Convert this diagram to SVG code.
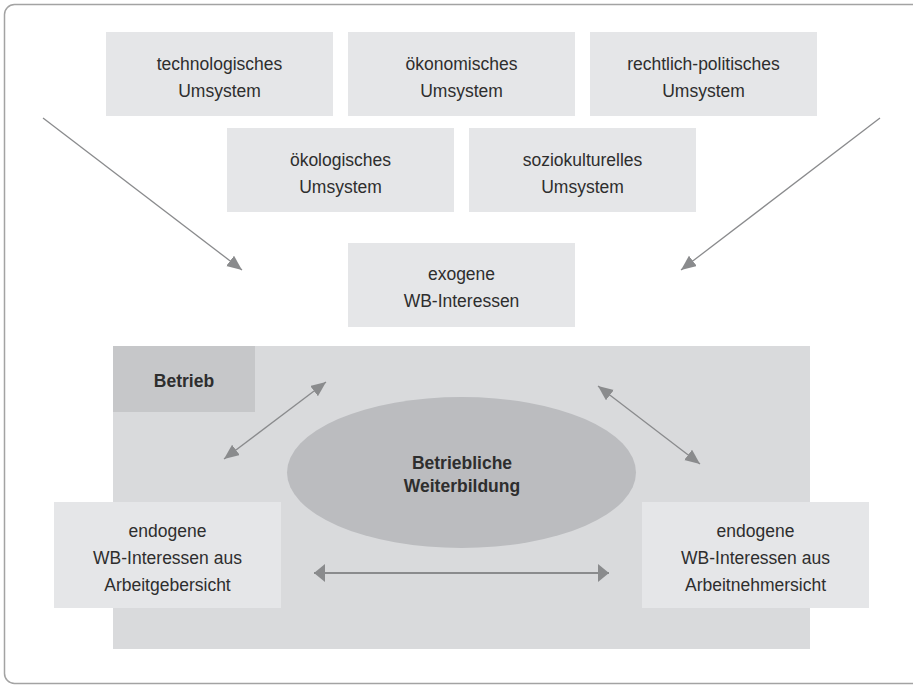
<svg xmlns="http://www.w3.org/2000/svg" width="913" height="686" viewBox="0 0 913 686">
<defs>
<style>
.box{fill:#e5e6e8}
.t{font-family:"Liberation Sans",Arial,sans-serif;font-size:17.5px;fill:#2e2e2e;text-anchor:middle}
.b{font-weight:bold}
.ln{stroke:#8a8b8d;stroke-width:1.3;fill:none}
.ln2{stroke:#8a8b8d;stroke-width:2;fill:none}
</style>
<marker id="ah" markerUnits="userSpaceOnUse" markerWidth="16" markerHeight="14" refX="15" refY="6.5" orient="auto-start-reverse">
<path d="M0,0 L15,6.5 L0,13 z" fill="#8a8b8d"/>
</marker>
<marker id="ah2" markerUnits="userSpaceOnUse" markerWidth="12" markerHeight="19" refX="11" refY="9" orient="auto-start-reverse">
<path d="M0,0 L11,9 L0,18 z" fill="#8a8b8d"/>
</marker>
</defs>
<rect width="913" height="686" fill="#ffffff"/>
<rect id="frame" x="4.5" y="4.5" width="930" height="679" rx="10" fill="none" stroke="#a3a3a3" stroke-width="1.5"/>

<g id="technologisches">
<rect class="box" x="106" y="32" width="227" height="84"/>
<text class="t" x="219.5" y="69.5">technologisches</text>
<text class="t" x="219.5" y="96.5">Umsystem</text>
</g>
<g id="oekonomisches">
<rect class="box" x="348" y="32" width="227" height="84"/>
<text class="t" x="461.5" y="69.5">ökonomisches</text>
<text class="t" x="461.5" y="96.5">Umsystem</text>
</g>
<g id="rechtlich">
<rect class="box" x="590" y="32" width="227" height="84"/>
<text class="t" x="703.5" y="69.5">rechtlich-politisches</text>
<text class="t" x="703.5" y="96.5">Umsystem</text>
</g>
<g id="oekologisches">
<rect class="box" x="227" y="128" width="227" height="84"/>
<text class="t" x="340.5" y="165.5">ökologisches</text>
<text class="t" x="340.5" y="192.5">Umsystem</text>
</g>
<g id="soziokulturelles">
<rect class="box" x="469" y="128" width="227" height="84"/>
<text class="t" x="582.5" y="165.5">soziokulturelles</text>
<text class="t" x="582.5" y="192.5">Umsystem</text>
</g>
<g id="exogene">
<rect class="box" x="348" y="243" width="227" height="84"/>
<text class="t" x="461.5" y="280">exogene</text>
<text class="t" x="461.5" y="307">WB-Interessen</text>
</g>

<g id="betrieb">
<rect x="113" y="346" width="697" height="303" fill="#d9dadc"/>
<rect x="113" y="346" width="142" height="66" fill="#c6c7c9"/>
<text class="t b" x="184" y="387">Betrieb</text>
</g>
<g id="weiterbildung">
<ellipse cx="461.5" cy="472.5" rx="174.5" ry="75.5" fill="#bbbcbf"/>
<text class="t b" x="462" y="469">Betriebliche</text>
<text class="t b" x="462" y="492">Weiterbildung</text>
</g>
<g id="endogen-ag">
<rect class="box" x="54" y="502" width="227" height="106"/>
<text class="t" x="167.5" y="537">endogene</text>
<text class="t" x="167.5" y="564">WB-Interessen aus</text>
<text class="t" x="167.5" y="591">Arbeitgebersicht</text>
</g>
<g id="endogen-an">
<rect class="box" x="642" y="502" width="227" height="106"/>
<text class="t" x="755.5" y="537">endogene</text>
<text class="t" x="755.5" y="564">WB-Interessen aus</text>
<text class="t" x="755.5" y="591">Arbeitnehmersicht</text>
</g>

<g id="connectors">
<line class="ln" x1="43" y1="118" x2="242" y2="270" marker-end="url(#ah)"/>
<line class="ln" x1="880" y1="118" x2="681" y2="270" marker-end="url(#ah)"/>
<line class="ln" x1="224" y1="459" x2="326" y2="382" marker-start="url(#ah)" marker-end="url(#ah)"/>
<line class="ln" x1="598" y1="386" x2="700" y2="464" marker-start="url(#ah)" marker-end="url(#ah)"/>
<line class="ln2" x1="314" y1="573" x2="609" y2="573" marker-start="url(#ah2)" marker-end="url(#ah2)"/>
</g>
</svg>
